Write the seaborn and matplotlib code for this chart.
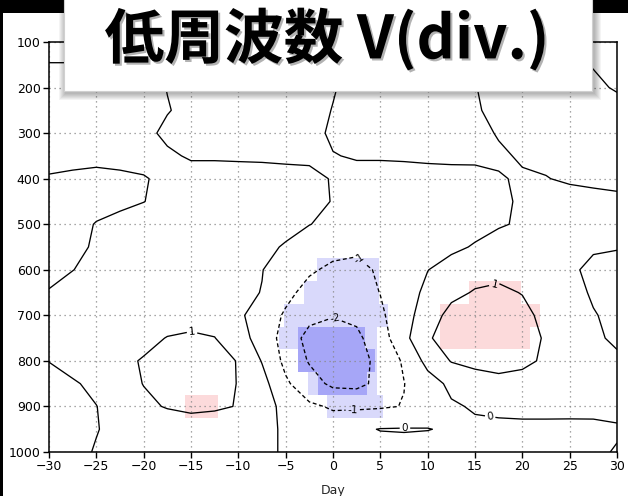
import numpy as np
import matplotlib
matplotlib.use("Agg")
import matplotlib.pyplot as plt
import matplotlib.patheffects as pe
from matplotlib.patches import Rectangle
import seaborn as sns

# ---- data -------------------------------------------------------------
days = [-30, -27.5, -25, -22.5, -20, -17.5, -15, -12.5, -10, -7.5, -5, -2.5,
        0, 2.5, 5, 7.5, 10, 12.5, 15, 17.5, 20, 22.5, 25, 27.5, 30]
levels_hpa = [100, 150, 200, 250, 300, 350, 400, 450, 500, 550,
              600, 650, 700, 750, 800, 850, 900, 950, 1000]

# divergent-wind anomaly, one row per pressure level (columns follow `days`)
v_div = [
    [-0.1, -0.1, -0.1, -0.1, -0.06, -0.05, -0.08, -0.1, -0.1, -0.1, -0.08, -0.04, 0.02, 0.06, 0.1, 0.12, 0.12, 0.1, 0.04, -0.03, -0.06, -0.06, -0.04, 0.01, 0.05],
    [0.01, 0.01, 0.02, 0.03, 0.03, -0.05, -0.1, -0.15, -0.2, -0.2, -0.15, -0.08, 0.01, 0.1, 0.15, 0.2, 0.2, 0.15, 0.05, -0.05, -0.1, -0.12, -0.08, 0.02, 0.08],
    [0.25, 0.3, 0.3, 0.25, 0.15, -0.01, -0.12, -0.2, -0.25, -0.25, -0.2, -0.1, -0.02, 0.1, 0.2, 0.25, 0.25, 0.18, 0.01, -0.1, -0.2, -0.2, -0.15, -0.08, 0.04],
    [0.3, 0.3, 0.3, 0.25, 0.15, 0.02, -0.1, -0.2, -0.25, -0.25, -0.2, -0.1, 0.01, 0.1, 0.2, 0.25, 0.25, 0.18, 0.04, -0.1, -0.2, -0.25, -0.25, -0.2, -0.15],
    [0.3, 0.3, 0.3, 0.25, 0.1, -0.08, -0.15, -0.2, -0.2, -0.2, -0.15, -0.08, 0.04, 0.12, 0.15, 0.18, 0.18, 0.15, 0.08, -0.02, -0.1, -0.15, -0.2, -0.2, -0.2],
    [0.2, 0.25, 0.25, 0.2, 0.15, 0.06, -0.04, -0.04, -0.04, -0.04, -0.04, -0.03, -0.01, 0.02, 0.03, 0.04, 0.05, 0.05, 0.04, 0.04, -0.03, -0.06, -0.1, -0.12, -0.15],
    [-0.05, -0.15, -0.25, -0.12, -0.03, 0.1, 0.15, 0.15, 0.12, 0.1, 0.07, 0.04, -0.01, -0.08, -0.12, -0.12, -0.1, -0.08, -0.06, -0.02, 0.03, 0.01, -0.04, -0.07, -0.1],
    [-0.6, -0.5, -0.35, -0.15, -0.01, 0.15, 0.25, 0.25, 0.25, 0.2, 0.15, 0.07, -0.01, -0.2, -0.3, -0.35, -0.35, -0.35, -0.3, -0.15, 0.1, 0.15, 0.12, 0.1, 0.08],
    [-0.55, -0.35, 0.05, 0.2, 0.25, 0.3, 0.3, 0.25, 0.2, 0.15, 0.1, 0.02, -0.2, -0.35, -0.45, -0.45, -0.45, -0.4, -0.3, -0.08, 0.1, 0.2, 0.2, 0.2, 0.2],
    [-0.45, -0.2, 0.1, 0.2, 0.25, 0.25, 0.25, 0.2, 0.15, 0.08, -0.03, -0.45, -0.75, -0.85, -0.75, -0.6, -0.4, -0.2, 0.08, 0.35, 0.45, 0.4, 0.25, 0.1, 0.05],
    [-0.25, -0.01, 0.15, 0.25, 0.3, 0.3, 0.3, 0.25, 0.2, 0.03, -0.55, -0.9, -1.15, -1.2, -0.9, -0.5, -0.02, 0.4, 0.7, 0.85, 0.75, 0.5, 0.15, -0.2, -0.3],
    [0.05, 0.2, 0.35, 0.45, 0.5, 0.5, 0.45, 0.4, 0.25, -0.03, -0.8, -1.25, -1.45, -1.4, -0.98, -0.5, 0.25, 0.8, 1.06, 1.1, 0.98, 0.7, 0.3, -0.1, -0.3],
    [0.35, 0.45, 0.55, 0.65, 0.7, 0.75, 0.75, 0.65, 0.2, -0.55, -1.1, -1.7, -1.95, -1.8, -1.15, -0.45, 0.6, 1.25, 1.3, 1.3, 1.15, 0.85, 0.45, 0.05, -0.2],
    [0.25, 0.35, 0.5, 0.7, 0.85, 1.02, 1.1, 1.02, 0.45, -0.45, -1.35, -2.35, -2.45, -2.2, -1.45, -0.3, 0.95, 1.2, 1.3, 1.3, 1.2, 0.95, 0.5, 0.1, -0.1],
    [0.03, 0.4, 0.7, 0.88, 1.04, 1.2, 1.25, 1.15, 0.98, -0.05, -1.25, -2.08, -2.5, -2.4, -1.7, -0.88, 0.3, 1.05, 1.2, 1.25, 1.15, 0.9, 0.5, 0.2, 0.1],
    [-0.5, -0.12, 0.25, 0.7, 1.02, 1.2, 1.25, 1.2, 0.98, 0.35, -0.85, -1.6, -2.2, -2.25, -1.75, -1.02, -0.4, 0.2, 0.65, 0.8, 0.75, 0.35, 0.25, 0.2, 0.15],
    [-0.4, -0.2, -0.02, 0.5, 0.85, 1.05, 1.15, 1.1, 0.97, 0.45, -0.3, -0.85, -1.1, -1.15, -1.1, -0.97, -0.4, -0.1, 0.08, 0.15, 0.15, 0.15, 0.12, 0.1, 0.08],
    [-0.35, -0.15, -0.03, 0.2, 0.35, 0.55, 0.65, 0.6, 0.35, 0.12, -0.06, -0.4, -0.55, -0.15, 0.03, 0.05, 0.02, -0.08, -0.15, -0.15, -0.12, -0.12, -0.1, -0.08, -0.03],
    [-0.4, -0.2, 0.05, 0.2, 0.3, 0.35, 0.35, 0.3, 0.25, 0.1, -0.05, -0.3, -0.4, -0.4, -0.35, -0.3, -0.3, -0.3, -0.25, -0.2, -0.2, -0.15, -0.1, -0.05, 0.02],
]
contour_levels = [-2, -1, 0, 1]

# significance shading: pressure row (50 hPa tall) and day span
light_rows = [600, 650, 700, 750, 800, 850, 900]
light_from = [-1.7, -3.1, -5.2, -5.7, -3.7, -2.6, -0.6]
light_to = [4.9, 4.9, 5.8, 4.6, 4.6, 4.6, 5.3]

dark_rows = [750, 800, 850]
dark_from = [-3.7, -3.7, -1.6]
dark_to = [3.4, 4.4, 3.6]

pink_rows = [650, 700, 750, 900]
pink_from = [14.4, 11.3, 11.3, -15.6]
pink_to = [19.9, 21.9, 20.8, -12.2]

title = "低周波数 V(div.)"

# ---- figure -----------------------------------------------------------
sns.set_theme(style="ticks")
plt.rcParams["font.family"] = ["DejaVu Sans"]
plt.rcParams["axes.unicode_minus"] = True

W, H = 628, 496
fig = plt.figure(figsize=(W / 100, H / 100), dpi=100)
fig.patch.set_facecolor("white")
ax = fig.add_axes([49 / W, 1 - 452 / H, 568 / W, 410 / H])
ax.set_facecolor("white")

row_h = 50
for rows, lo, hi, col in [(light_rows, light_from, light_to, "#d9d9fb"),
                          (dark_rows, dark_from, dark_to, "#a6a6f7"),
                          (pink_rows, pink_from, pink_to, "#fcdadb")]:
    for p, a, b in zip(rows, lo, hi):
        ax.broken_barh([(a, b - a)], (p - row_h / 2, row_h),
                       facecolors=col, edgecolor="none", zorder=1)

ax.grid(True, linestyle=(0, (1, 3)), color="#8a8a8a", linewidth=0.9, zorder=1.5)
ax.set_axisbelow(False)

D, P = np.meshgrid(days, levels_hpa)
Z = np.array(v_div)
cs = ax.contour(D, P, Z, levels=contour_levels, colors="black",
                linewidths=0.95, negative_linestyles=(0, (3, 2)), zorder=3)
label_at = [(17.0, 629), (-14.9, 737), (2.9, 574), (2.1, 918),
            (0.2, 706), (16.6, 923), (7.6, 951)]
ax.clabel(cs, fmt="%d", fontsize=7.5, inline=True, inline_spacing=2,
          manual=label_at)

ax.set_xlim(-30, 30)
ax.set_ylim(1000, 100)
ax.set_xticks(range(-30, 31, 5))
ax.set_yticks(range(100, 1001, 100))
ax.tick_params(direction="out", length=4, width=1, labelsize=9, pad=2,
               colors="black")
for s in ax.spines.values():
    s.set_linewidth(1.1)
    s.set_color("black")
    s.set_zorder(4)
ax.set_xlabel("Day", fontsize=9, labelpad=8)

# slide frame: black strips along the top and left
fig.add_artist(Rectangle((0, 1 - 13 / H), 1, 13 / H, transform=fig.transFigure,
                         facecolor="black", edgecolor="none", zorder=5))
fig.add_artist(Rectangle((0, 0), 3 / W, 1, transform=fig.transFigure,
                         facecolor="black", edgecolor="none", zorder=5))

# title card with a soft drop shadow
bx0, bx1, by1 = 64, 592, 91
for i in range(7, 0, -1):
    fig.add_artist(Rectangle(((bx0 - i + 2) / W, 1 - (by1 + i + 2) / H),
                             (bx1 - bx0 + 2 * i) / W, (by1 + i + 10) / H,
                             transform=fig.transFigure, facecolor="black",
                             edgecolor="none", alpha=0.045, zorder=6))
fig.add_artist(Rectangle((bx0 / W, 1 - by1 / H), (bx1 - bx0) / W, (by1 + 10) / H,
                         transform=fig.transFigure, facecolor="white",
                         edgecolor="#d0d0d0", linewidth=0.8, zorder=7))
fig.text(327 / W, 1 - 40 / H, title, fontsize=43, fontweight="bold",
         family=["Noto Sans CJK JP", "DejaVu Sans"], ha="center", va="center",
         color="black", zorder=8,
         path_effects=[pe.withSimplePatchShadow(offset=(1.5, -1.5),
                                                shadow_rgbFace="#555555",
                                                alpha=0.45)])

fig.savefig("out.png", dpi=100, facecolor="white")
